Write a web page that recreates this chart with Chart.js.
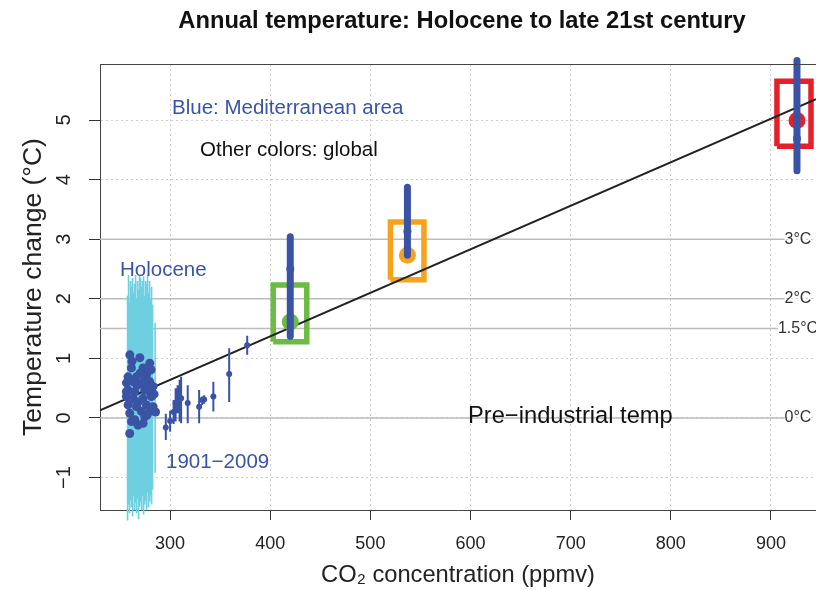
<!DOCTYPE html>
<html>
<head>
<meta charset="utf-8">
<script src="https://cdn.jsdelivr.net/npm/chart.js@4.4.1/dist/chart.umd.min.js"></script>
<style>
  html, body { margin: 0; padding: 0; background: #fff; }
</style>
</head>
<body>
<canvas id="grafico" width="816" height="590"></canvas>
<script>
// axis ticks
const xTicks = [300, 400, 500, 600, 700, 800, 900];
const yTicks = [-1, 0, 1, 2, 3, 4, 5];
const yTickLabels = ['\u22121', '0', '1', '2', '3', '4', '5'];

// reference warming levels drawn as solid lines
const refLevels = [3, 2, 1.5, 0];
const refLabels = ['3°C', '2°C', '1.5°C', '0°C'];

// Holocene ranges (cyan bars)
const holoBarCo2  = [257.5, 258.5, 259.5, 260.5, 261.5, 262.5, 263.5, 264.5, 265.5, 266.5, 267.5, 268.5, 269.5, 270.5,
                     271.5, 272.5, 273.5, 274.5, 275.5, 276.5, 277.5, 278.5, 279.5, 280.5, 281.5, 282.5, 285];
const holoBarHigh = [2.05, 2.4, 1.95, 2.3, 2.2, 2.35, 2.1, 2.25, 2.4, 2.0, 2.3, 2.15, 2.4, 2.35,
                     2.2, 2.3, 2.38, 2.05, 2.3, 2.25, 2.4, 2.1, 2.3, 2.0, 2.2, 1.9, 1.6];
const holoBarLow  = [-1.72, -1.45, -1.6, -1.38, -1.5, -1.65, -1.3, -1.55, -1.42, -1.6, -1.35, -1.7, -1.48, -1.4,
                     -1.55, -1.3, -1.62, -1.45, -1.38, -1.55, -1.25, -1.5, -1.4, -1.3, -1.45, -1.2, -0.92];

// Holocene points (Mediterranean)
const holoCo2  = [259.8, 269.8, 279.7, 261.4, 273, 281, 258, 266.4, 276.4, 256.4, 263, 271.4, 279.7, 283, 258,
                  264.7, 274.7, 256.4, 263, 273, 281.4, 258, 266.4, 276.4, 283, 259.7, 271.4, 279.7, 264.7, 274.7,
                  268, 273, 259.7, 261.4, 256.4, 278, 268, 279.7, 270, 262, 277, 284, 285.5, 267, 260, 275];
const holoTemp = [1.06, 1.01, 0.92, 0.84, 0.84, 0.81, 0.69, 0.69, 0.72, 0.59, 0.61, 0.58, 0.61, 0.53, 0.47,
                  0.44, 0.47, 0.36, 0.33, 0.33, 0.36, 0.22, 0.19, 0.22, 0.19, 0.08, 0.11, 0.11, -0.03, 0.02,
                  -0.12, -0.09, -0.26, -0.06, 0.44, 0.5, 0.27, 0.44, 0.75, 0.95, 0.05, 0.4, 0.1, 0.55, 0.3, 0.65];

// 1901-2009 observations with error bars
const obsCo2  = [295.7, 300, 303.5, 305.5, 307.5, 309.5, 311, 317.6, 329, 332, 334, 343.2, 359, 377];
const obsTemp = [-0.16, -0.05, 0.1, 0.25, 0.27, 0.33, 0.33, 0.25, 0.19, 0.3, 0.31, 0.36, 0.74, 1.22];
const obsLow  = [-0.37, -0.23, -0.1, -0.06, 0.08, -0.06, -0.09, -0.09, -0.09, 0.22, 0.24, 0.11, 0.27, 1.06];
const obsHigh = [0.07, 0.12, 0.3, 0.5, 0.55, 0.64, 0.69, 0.55, 0.47, 0.36, 0.38, 0.61, 1.17, 1.38];

// linear fit through the data
const fitCo2  = [230, 945];
const fitTemp = [0.13, 5.35];

// global scenario points and their boxes (green, orange, red)
const scenCo2    = [420, 537, 926];
const scenTemp   = [1.61, 2.73, 4.99];
const scenColors = ['#6cbb44', '#f7a21b', '#e6202a'];
const boxCo2Lo   = [403, 520, 906];
const boxCo2Hi   = [436.5, 553.5, 940];
const boxTempLo  = [1.28, 2.32, 4.56];
const boxTempHi  = [2.23, 3.29, 5.65];

// Mediterranean ranges for the scenarios
const medCo2  = [420, 537, 926];
const medTemp = [2.5, 3.13, 4.69];
const medLow  = [1.37, 2.73, 4.15];
const medHigh = [3.04, 3.87, 6.0];

const FONT = '"Liberation Sans", Arial, Helvetica, sans-serif';
const BLUE = '#3b53a4';
const CYAN = '#6dcfe0';

const gapSeries = (xs, lo, hi) =>
  xs.flatMap((v, i) => [{ x: v, y: lo[i] }, { x: v, y: hi[i] }, { x: v, y: null }]);

const pts = (xs, ys) => xs.map((v, i) => ({ x: v, y: ys[i] }));

const boxSeries = (i) => [
  { x: boxCo2Lo[i], y: boxTempLo[i] },
  { x: boxCo2Hi[i], y: boxTempLo[i] },
  { x: boxCo2Hi[i], y: boxTempHi[i] },
  { x: boxCo2Lo[i], y: boxTempHi[i] },
  { x: boxCo2Lo[i], y: boxTempLo[i] }
];

const segmentos = (data, color, width, extra) => Object.assign({
  data, showLine: true, borderColor: color, borderWidth: width,
  pointRadius: 0, spanGaps: false, tension: 0
}, extra || {});

const pontos = (data, color, radius) => ({
  data, showLine: false, backgroundColor: color, borderColor: color,
  borderWidth: 0, pointRadius: radius, pointHoverRadius: radius
});

// bottom -> top
const camadas = [
  segmentos(gapSeries(holoBarCo2, holoBarLow, holoBarHigh), CYAN, 1.6, { clip: false }),
  segmentos(boxSeries(0), scenColors[0], 5.5, { borderJoinStyle: 'miter' }),
  segmentos(boxSeries(1), scenColors[1], 5.5, { borderJoinStyle: 'miter' }),
  segmentos(boxSeries(2), scenColors[2], 5.5, { borderJoinStyle: 'miter', clip: false }),
  segmentos(pts(fitCo2, fitTemp), '#222', 2),
  pontos(pts(holoCo2, holoTemp), BLUE, 4.5),
  segmentos(gapSeries(obsCo2, obsLow, obsHigh), BLUE, 2),
  pontos(pts(obsCo2, obsTemp), BLUE, 3),
  pontos(pts(scenCo2, scenTemp), scenColors, 8.5),
  segmentos(gapSeries(medCo2, medLow, medHigh), BLUE, 7, { borderCapStyle: 'round', clip: false }),
  pontos(pts(medCo2, medTemp), BLUE, 4)
];
const datasets = camadas.map((d, i) => Object.assign(d, { order: camadas.length - i }));

const extras = {
  id: 'extras',
  beforeDatasetsDraw(chart) {
    const { ctx, chartArea: a, scales: { y } } = chart;
    ctx.save();
    ctx.font = '16px ' + FONT;
    ctx.strokeStyle = '#bdbdbd';
    ctx.lineWidth = 1.5;
    refLevels.forEach((v, i) => {
      const py = y.getPixelForValue(v);
      const w = ctx.measureText(refLabels[i]).width;
      ctx.beginPath();
      ctx.moveTo(a.left, py);
      ctx.lineTo(798 - w / 2, py);
      ctx.stroke();
    });
    ctx.restore();
  },
  afterDraw(chart) {
    const { ctx, chartArea: a, scales: { y } } = chart;
    ctx.save();
    // top frame line
    ctx.strokeStyle = '#444';
    ctx.lineWidth = 1;
    ctx.beginPath();
    ctx.moveTo(a.left, a.top + 0.5);
    ctx.lineTo(a.right, a.top + 0.5);
    ctx.stroke();

    // labels of the reference lines
    ctx.fillStyle = '#333';
    ctx.font = '16px ' + FONT;
    ctx.textAlign = 'center';
    ctx.textBaseline = 'middle';
    refLevels.forEach((v, i) => ctx.fillText(refLabels[i], 798, y.getPixelForValue(v)));

    // rotated y tick labels
    ctx.fillStyle = '#222';
    ctx.font = '20px ' + FONT;
    yTicks.forEach((v, i) => {
      ctx.save();
      ctx.translate(64, y.getPixelForValue(v));
      ctx.rotate(-Math.PI / 2);
      ctx.fillText(yTickLabels[i], 0, 0);
      ctx.restore();
    });

    // annotations
    ctx.textAlign = 'left';
    ctx.font = '20.5px ' + FONT;
    ctx.fillStyle = BLUE;
    ctx.fillText('Blue: Mediterranean area', 172, 108);
    ctx.fillText('Holocene', 120, 270);
    ctx.fillText('1901\u22122009', 166, 462);
    ctx.fillStyle = '#111';
    ctx.fillText('Other colors: global', 200, 150);
    ctx.font = '23.7px ' + FONT;
    ctx.fillText('Pre\u2212industrial temp', 468, 416);

    // title
    ctx.textAlign = 'center';
    ctx.font = 'bold 23.7px ' + FONT;
    ctx.fillText('Annual temperature: Holocene to late 21st century', 462, 21);
    ctx.restore();
  }
};

new Chart(document.getElementById('grafico'), {
  type: 'scatter',
  data: { datasets },
  plugins: [extras],
  options: {
    responsive: false,
    animation: false,
    devicePixelRatio: 1,
    layout: { autoPadding: false, padding: { top: 64, left: 0, right: 0, bottom: 0 } },
    plugins: {
      legend: { display: false },
      tooltip: { enabled: false }
    },
    scales: {
      x: {
        type: 'linear',
        min: 230,
        max: 945,
        afterBuildTicks: s => { s.ticks = xTicks.map(v => ({ value: v })); },
        afterFit: s => { s.height = 80; s.paddingLeft = 0; s.paddingRight = 0; },
        ticks: { color: '#222', font: { family: FONT, size: 18 }, padding: 13, maxRotation: 0 },
        grid: { color: '#cccccc', lineWidth: 1, tickColor: '#333', tickLength: 10 },
        border: { color: '#444', width: 1, dash: [2, 3] },
        title: {
          display: true, text: 'CO₂ concentration (ppmv)', color: '#222',
          font: { family: FONT, size: 23.7 }, padding: { top: 0, bottom: 0 }
        }
      },
      y: {
        type: 'linear',
        min: -1.544,
        max: 5.94,
        afterBuildTicks: s => { s.ticks = yTicks.map(v => ({ value: v })); },
        afterFit: s => { s.width = 100; s.paddingTop = 0; s.paddingBottom = 0; },
        ticks: { display: false },
        grid: { color: '#cccccc', lineWidth: 1, tickColor: '#333', tickLength: 11 },
        border: { color: '#444', width: 1, dash: [2, 3] },
        title: {
          display: true, text: 'Temperature change (°C)', color: '#222',
          font: { family: FONT, size: 26.5 }, padding: { top: 18, bottom: 0 }
        }
      }
    }
  }
});
</script>
</body>
</html>
